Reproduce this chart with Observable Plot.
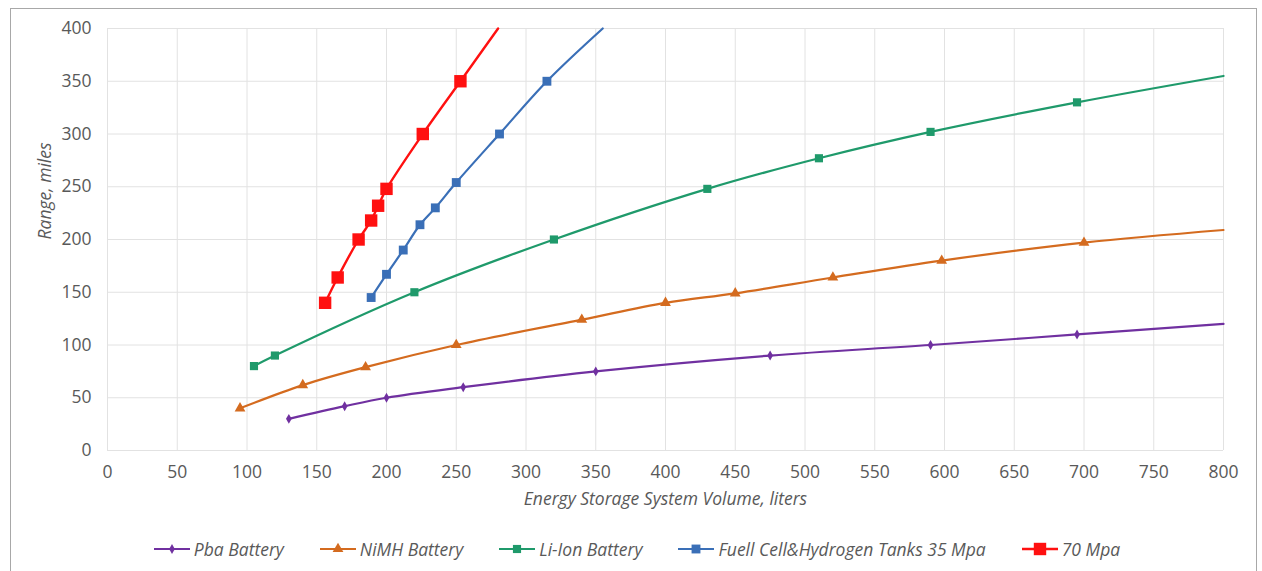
<!DOCTYPE html>
<html>
<head>
<meta charset="utf-8">
<script src="https://cdn.jsdelivr.net/npm/d3@7"></script>
<script src="https://cdn.jsdelivr.net/npm/@observablehq/plot@0.6"></script>
<style>
  html, body { margin: 0; padding: 0; background: #fff; overflow: hidden; }
  #wrap { position: relative; width: 1262px; height: 571px; font-family: "Open Sans", sans-serif; }
  #frame { position: absolute; left: 10px; top: 8px; width: 1247px; height: 600px; border: 1.5px solid #a8a8a8; border-bottom: none; box-sizing: border-box; }
  #chart { position: absolute; left: 0; top: 0; }
  #legend { position: absolute; left: 0; width: 1262px; top: 537px; display: flex; justify-content: center; gap: 36px; padding-left: 12px; box-sizing: border-box; }
  .item { display: flex; align-items: center; gap: 4px; font-style: italic; font-size: 17.5px; color: #595959; white-space: nowrap; }
</style>
</head>
<body>
<div id="wrap">
  <div id="frame"></div>
  <div id="chart"></div>
  <div id="legend"></div>
</div>
<script>
// ---- Data ----
const seriesNames = ["Pba Battery", "NiMH Battery", "Li-Ion Battery", "Fuell Cell&Hydrogen Tanks 35 Mpa", "70 Mpa"];
const seriesColors = ["#7030a0", "#d46b1f", "#1f9a6b", "#3a6fb7", "#ff1010"];
const seriesSymbols = ["diamond", "triangle", "square", "square", "square"];
const seriesSizes = [3, 4, 4.6, 5, 7];

// marker points
const pbaX = [130, 170, 200, 255, 350, 475, 590, 695];
const pbaY = [30, 42, 50, 60, 75, 90, 100, 110];
const nimhX = [95, 140, 185, 250, 340, 400, 450, 520, 598, 700];
const nimhY = [40, 62, 79, 100, 124, 140, 149, 164, 180, 197];
const liionX = [105, 120, 220, 320, 430, 510, 590, 695];
const liionY = [80, 90, 150, 200, 248, 277, 302, 330];
const fuelX = [189, 200, 212, 224, 235, 250, 281, 315];
const fuelY = [145, 167, 190, 214, 230, 254, 300, 350];
const h70X = [156, 165, 180, 189, 194, 200, 226, 253];
const h70Y = [140, 164, 200, 218, 232, 248, 300, 350];
// line end points (no marker)
const endX = [800, 800, 800, 355, 280];
const endY = [120, 209, 355, 400, 400];

const xTicks = d3.range(0, 801, 50);
const yTicks = d3.range(0, 401, 50);

// ---- Build tables ----
const allX = [pbaX, nimhX, liionX, fuelX, h70X];
const allY = [pbaY, nimhY, liionY, fuelY, h70Y];
const points = [];
const lines = [];
seriesNames.forEach((name, i) => {
  allX[i].forEach((x, j) => {
    points.push({series: name, x, y: allY[i][j]});
    lines.push({series: name, x, y: allY[i][j]});
  });
  lines.push({series: name, x: endX[i], y: endY[i]});
});

const FS = 17.5;
const marks = [
  Plot.gridX(xTicks, {stroke: "#e2e2e2", strokeOpacity: 1, strokeWidth: 1}),
  Plot.gridY(yTicks, {stroke: "#e2e2e2", strokeOpacity: 1, strokeWidth: 1}),
  Plot.axisX(xTicks, {tickSize: 0, tickPadding: 15, fontSize: FS, fill: "#595959", label: null}),
  Plot.axisY(yTicks, {tickSize: 0, tickPadding: 16, fontSize: FS, fill: "#595959", label: null}),
  Plot.text(["Energy Storage System Volume, liters"], {frameAnchor: "bottom", dy: 54, text: d => d, fontStyle: "italic", fontSize: FS, fill: "#595959"}),
  Plot.text(["Range, miles"], {frameAnchor: "left", dx: -62, rotate: -90, text: d => d, fontStyle: "italic", fontSize: FS, fill: "#595959"})
];
seriesNames.forEach((name, i) => {
  marks.push(Plot.line(lines.filter(d => d.series === name), {x: "x", y: "y", stroke: seriesColors[i], strokeWidth: i === 4 ? 2.4 : 2.2, curve: "catmull-rom"}));
});
seriesNames.forEach((name, i) => {
  marks.push(Plot.dot(points.filter(d => d.series === name), {x: "x", y: "y", fill: seriesColors[i], stroke: "none", symbol: seriesSymbols[i], r: seriesSizes[i]}));
});

const chart = Plot.plot({
  width: 1262,
  height: 520,
  marginTop: 28,
  marginBottom: 70,
  marginLeft: 107,
  marginRight: 39,
  style: {fontFamily: "'Open Sans', sans-serif", background: "transparent", overflow: "visible"},
  x: {domain: [0, 800]},
  y: {domain: [0, 400]},
  marks
});
document.getElementById("chart").appendChild(chart);

// ---- Legend ----
const legend = d3.select("#legend");
seriesNames.forEach((name, i) => {
  const item = legend.append("div").attr("class", "item");
  const svg = item.append("svg").attr("width", 36).attr("height", 16);
  svg.append("line").attr("x1", 0).attr("x2", 36).attr("y1", 8).attr("y2", 8)
    .attr("stroke", seriesColors[i]).attr("stroke-width", i === 4 ? 2.4 : 2.2);
  const sym = {diamond: d3.symbolDiamond, triangle: d3.symbolTriangle, square: d3.symbolSquare}[seriesSymbols[i]];
  const r = seriesSizes[i];
  svg.append("path").attr("transform", "translate(18,8)")
    .attr("d", d3.symbol(sym, Math.PI * r * r)())
    .attr("fill", seriesColors[i]);
  item.append("span").text(name);
});
</script>
</body>
</html>
